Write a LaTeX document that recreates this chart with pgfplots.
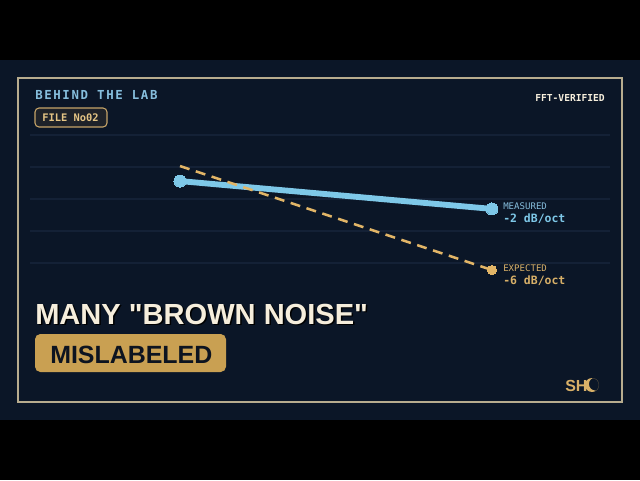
\documentclass[border=0pt]{standalone}
\usepackage{pgfplots}
\pgfplotsset{compat=1.18}
\usepackage{fontspec}
\setmainfont{Liberation Sans}[Ligatures=TeXOff]
\newfontfamily\mono{DejaVu Sans Mono}
\newfontfamily\monols[LetterSpace=13]{DejaVu Sans Mono}
\definecolor{navy}{HTML}{0B1627}
\definecolor{frame}{HTML}{B8AC8E}
\definecolor{gridc}{HTML}{142136}
\definecolor{sky}{HTML}{7EC8E8}
\definecolor{goldd}{HTML}{E2B567}
\definecolor{goldl}{HTML}{D8B068}
\definecolor{cream}{HTML}{F6EEDC}
\definecolor{goldbox}{HTML}{C9A052}
\definecolor{filebox}{HTML}{1E2229}
\definecolor{fileborder}{HTML}{C6A468}
\definecolor{filetext}{HTML}{E5C585}
\definecolor{labblue}{HTML}{86BEDD}
\definecolor{inkdark}{HTML}{0D1420}
\begin{document}
\begin{tikzpicture}
% background in pixel coordinates
\begin{scope}[x=0.75pt,y=-0.75pt,yshift=360pt]
\fill[black] (0,0) rectangle (640,480);
\fill[navy] (0,60) rectangle (640,420);
\draw[frame, line width=1.1pt] (18,78) rectangle (622,402);
\foreach \yy in {135,167,199,231,263}{
  \draw[gridc, line width=0.8pt] (30,\yy) -- (610,\yy);
}
\end{scope}
\begin{axis}[
  scale only axis, width=480pt, height=360pt,
  xmin=-0.5769, xmax=1.4744, ymin=-10.78125, ymax=4.21875,
  hide axis, clip=false,
]
\addplot[sky, line width=4.4pt, mark=*, mark size=4.5pt,
  mark options={fill=sky, draw=sky, line width=0pt, solid}]
  coordinates {(0,-1.44) (1,-2.31)};
\addplot[goldd, line width=1.9pt, dash pattern=on 7.5pt off 5pt,
  mark=*, mark indices={2}, mark size=3.4pt,
  mark options={fill=goldd, draw=goldd, line width=0pt, solid}]
  coordinates {(0,-0.97) (1,-4.22)};
\end{axis}
\begin{scope}[x=0.75pt,y=-0.75pt,yshift=360pt]
\node[anchor=base west, inner sep=0, text=labblue] at (35,99)
  {\monols\bfseries\fontsize{9.3}{11}\selectfont BEHIND THE LAB};
\draw[fileborder, fill=filebox, line width=0.8pt, rounded corners=3pt]
  (35,108) rectangle (107,127);
\node[anchor=base west, inner sep=0, text=filetext] at (42,121.5)
  {\mono\bfseries\fontsize{7.8}{9}\selectfont FILE No02};
\node[anchor=base east, inner sep=0, text=cream] at (605,101)
  {\mono\bfseries\fontsize{7.2}{9}\selectfont FFT-VERIFIED};
\node[anchor=base west, inner sep=0, text=labblue] at (503,209)
  {\mono\fontsize{6.8}{8}\selectfont MEASURED};
\node[anchor=base west, inner sep=0, text=sky] at (503,222)
  {\mono\bfseries\fontsize{8.6}{10}\selectfont -2 dB/oct};
\node[anchor=base west, inner sep=0, text=goldl] at (503,271)
  {\mono\fontsize{6.8}{8}\selectfont EXPECTED};
\node[anchor=base west, inner sep=0, text=goldl] at (503,284)
  {\mono\bfseries\fontsize{8.6}{10}\selectfont -6 dB/oct};
% headline
\node[anchor=base west, inner sep=0, text=black] at (36.5,325.5)
  {\bfseries\fontsize{21.8}{26}\selectfont MANY "BROWN NOISE"};
\node[anchor=base west, inner sep=0, text=cream] at (35,324)
  {\bfseries\fontsize{21.8}{26}\selectfont MANY "BROWN NOISE"};
\fill[goldbox, rounded corners=4pt] (35,334) rectangle (226,372);
\node[anchor=base west, inner sep=0, text=inkdark] at (50,363)
  {\bfseries\fontsize{18.7}{22}\selectfont MISLABELED};
% logo
\node[anchor=base west, inner sep=0, text=goldl] at (565,391)
  {\bfseries\fontsize{12}{14}\selectfont SH};
\begin{scope}
\clip (592,385) circle (7);
\fill[goldl, even odd rule] (592,385) circle (7) (595.5,384) circle (6.6);
\end{scope}
\end{scope}
\end{tikzpicture}
\end{document}
